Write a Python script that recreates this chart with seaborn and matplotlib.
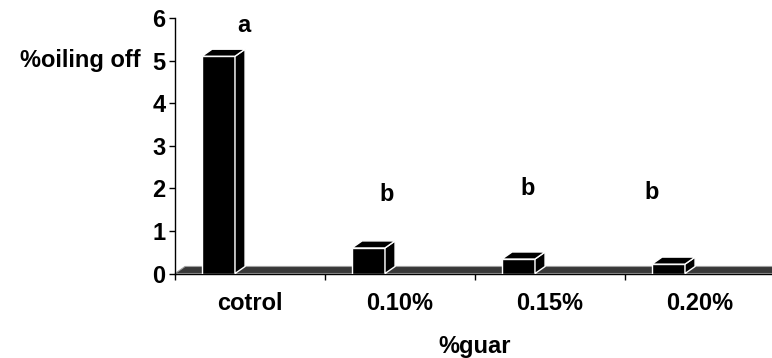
import pandas as pd
import seaborn as sns
import matplotlib.pyplot as plt
from matplotlib.patches import Polygon

categories = ['cotrol', '0.10%', '0.15%', '0.20%']
oiling_off = [5.1, 0.6, 0.34, 0.22]
letters = ['a', 'b', 'b', 'b']
letter_y = [5.81, 1.86, 2.0, 1.9]
letter_shift = [-0.04, -0.09, -0.15, -0.32]

df = pd.DataFrame({'guar': categories, 'oil': oiling_off})

sns.set_style('ticks', {'text.color': 'black', 'axes.labelcolor': 'black',
                        'xtick.color': 'black', 'ytick.color': 'black',
                        'axes.edgecolor': 'black'})
plt.rcParams['font.family'] = ['Liberation Sans', 'DejaVu Sans']
plt.rcParams['font.weight'] = 'bold'
fs = 17

fig = plt.figure(figsize=(7.72, 3.58), dpi=100)
ax = fig.add_axes([175 / 772, 0.236, 600 / 772, 0.714])

sns.barplot(data=df, x='guar', y='oil', color='black', saturation=1,
            width=0.22, edgecolor='white', linewidth=1, ax=ax, zorder=3)

# fake 3D depth (Excel style)
dx, dy = 0.067, 0.165
shift = -0.21

ax.add_patch(Polygon([(-0.5, 0), (3.6, 0), (3.6 + dx, dy), (-0.5 + dx, dy)],
                     closed=True, facecolor='#383838', edgecolor='#a0a0a0',
                     linewidth=0.8, zorder=2, clip_on=False))

for p in list(ax.patches):
    if not hasattr(p, 'get_height') or p.get_height() <= 0:
        continue
    p.set_x(p.get_x() + shift)
    x0, x1, h = p.get_x(), p.get_x() + p.get_width(), p.get_height()
    side = [(x1, 0), (x1 + dx, dy), (x1 + dx, h + dy), (x1, h)]
    top = [(x0, h), (x0 + dx, h + dy), (x1 + dx, h + dy), (x1, h)]
    for pts in (side, top):
        ax.add_patch(Polygon(pts, closed=True, facecolor='black',
                             edgecolor='white', linewidth=1, zorder=3))

for i, (t, ly, s) in enumerate(zip(letters, letter_y, letter_shift)):
    ax.text(i + s, ly, t, ha='center', va='center', fontsize=fs, fontweight='bold')

ax.set_xlim(-0.5, 3.5)
ax.set_ylim(0, 6)
ax.set_yticks(range(0, 7))
ax.tick_params(axis='y', labelsize=fs, length=4, width=1, pad=3, direction='out')
ax.set_xticks(range(len(categories)))
ax.set_xticklabels(categories, fontsize=fs, fontweight='bold')
ax.set_xticks([-0.5, 0.5, 1.5, 2.5], minor=True)
ax.tick_params(axis='x', which='major', length=0, pad=13)
ax.tick_params(axis='x', which='minor', length=4, width=1, direction='out')
for lab in ax.get_yticklabels():
    lab.set_fontweight('bold')

sns.despine(ax=ax)
for sp in ('left', 'bottom'):
    ax.spines[sp].set_linewidth(1)

ax.set_ylabel('%oiling off', fontsize=fs, fontweight='bold', rotation=0,
              ha='right', va='center')
ax.yaxis.set_label_coords(-0.058, 5 / 6)
ax.set_xlabel('%guar', fontsize=fs, fontweight='bold', va='center')
ax.xaxis.set_label_coords(0.5, -0.286)

fig.savefig('out.png', dpi=100)
